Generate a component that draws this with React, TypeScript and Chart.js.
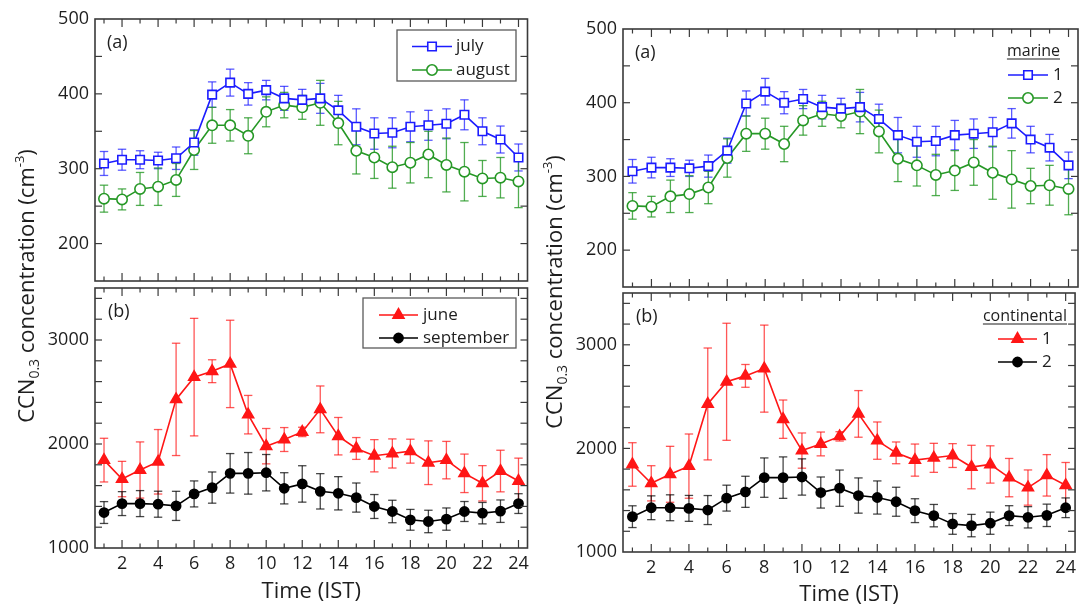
import React, { useEffect, useRef } from 'react';
import { Chart, registerables } from 'chart.js';
import { drawPoint } from 'chart.js/helpers';

Chart.register(...registerables);

// ---------------- data ----------------
const hours = [1, 2, 3, 4, 5, 6, 7, 8, 9, 10, 11, 12, 13, 14, 15, 16, 17, 18, 19, 20, 21, 22, 23, 24];
const xTickLabels = [2, 4, 6, 8, 10, 12, 14, 16, 18, 20, 22, 24];
const topYTickLabels = [200, 300, 400, 500];
const bottomYTickLabels = [1000, 2000, 3000];
const topYMinorTicks = [200, 250, 300, 350, 400, 450];
const bottomYMinorTicks = [1200, 1400, 1600, 1800, 2000, 2200, 2400, 2600, 2800, 3000, 3200, 3400];

const julyMean = [307, 312, 312, 311, 314, 335, 399, 415, 400, 405, 394, 392, 394, 378, 356, 347, 348, 356, 358, 360, 372, 350, 339, 315];
const julyErr = [16, 14, 12, 11, 15, 17, 17, 18, 15, 13, 16, 14, 20, 20, 24, 21, 20, 20, 20, 20, 20, 18, 18, 18];
const augustMean = [260, 259, 273, 276, 285, 325, 358, 358, 344, 376, 385, 382, 388, 361, 324, 315, 302, 308, 319, 305, 296, 287, 288, 283];
const augustErr = [18, 14, 22, 25, 22, 26, 24, 21, 24, 20, 17, 16, 30, 29, 31, 28, 28, 27, 31, 36, 39, 24, 27, 35];
const juneMean = [1845, 1663, 1750, 1829, 2429, 2643, 2700, 2770, 2282, 1979, 2043, 2116, 2333, 2075, 1957, 1887, 1909, 1931, 1820, 1845, 1718, 1622, 1740, 1644];
const juneErr = [210, 170, 270, 310, 540, 565, 110, 420, 185, 170, 115, 45, 225, 180, 105, 155, 140, 115, 210, 180, 185, 170, 200, 220];
const septemberMean = [1341, 1427, 1427, 1421, 1405, 1520, 1581, 1718, 1718, 1724, 1574, 1616, 1545, 1526, 1485, 1399, 1351, 1271, 1255, 1278, 1351, 1335, 1354, 1427];
const septemberErr = [105, 115, 125, 125, 140, 125, 150, 190, 200, 175, 150, 175, 170, 160, 140, 115, 108, 100, 108, 107, 96, 103, 108, 95];

const leftTopNames = ['july', 'august'];
const leftBottomNames = ['june', 'september'];
const rightTopNames = ['1', '2'];
const rightBottomNames = ['1', '2'];
const rightTopHeader = 'marine';
const rightBottomHeader = 'continental';
const panelLabels = ['(a)', '(b)'];
const xTitle = 'Time (IST)';
const yTitleParts = ['CCN', '0.3', ' concentration (cm', '-3', ')'];

// ---------------- styles ----------------
const FONT = "'Open Sans', 'Noto Sans', sans-serif";
const TEXT = '#1e1e1e';
const FRAME = '#3a3a3a';
const W = 1081;
const H = 612;

const styles = {
  blue: { color: 'rgb(28,28,255)', err: 'rgba(28,28,255,0.72)', pointStyle: 'rect', radius: 6, fill: '#ffffff' },
  green: { color: 'rgb(38,152,38)', err: 'rgba(38,152,38,0.8)', pointStyle: 'circle', radius: 5.2, fill: '#ffffff' },
  red: { color: 'rgb(255,22,22)', err: 'rgba(255,22,22,0.72)', pointStyle: 'triangle', radius: 6.3, fill: 'rgb(255,22,22)' },
  black: { color: '#000000', err: 'rgba(0,0,0,0.72)', pointStyle: 'circle', radius: 4.6, fill: '#000000' },
};

type Series = { mean: number[]; err: number[]; style: any };
const julySeries: Series = { mean: julyMean, err: julyErr, style: styles.blue };
const augustSeries: Series = { mean: augustMean, err: augustErr, style: styles.green };
const juneSeries: Series = { mean: juneMean, err: juneErr, style: styles.red };
const septemberSeries: Series = { mean: septemberMean, err: septemberErr, style: styles.black };

type Area = { left: number; right: number; top: number; bottom: number };

type PanelSpec = {
  area: Area;
  yMin: number;
  yMax: number;
  yTicks: number[];
  yMinor: number[];
  series: Series[];
  names: string[];
  showX: boolean;
  xAxisH?: number;
  label: { text: string; x: number; y: number };
  legend: any;
  yTitle?: { baseX: number; cy: number };
};

const panels: PanelSpec[] = [
  {
    area: { left: 95, right: 527.5, top: 19, bottom: 281 },
    yMin: 150, yMax: 500, yTicks: topYTickLabels, yMinor: topYMinorTicks,
    series: [julySeries, augustSeries], names: leftTopNames, showX: false,
    label: { text: panelLabels[0], x: 107, y: 43 },
    legend: { box: [397, 30, 516, 81], rows: [46.5, 70], line: [412, 452], textX: 456 },
  },
  {
    area: { left: 95, right: 527.5, top: 288, bottom: 548 },
    yMin: 1000, yMax: 3500, yTicks: bottomYTickLabels, yMinor: bottomYMinorTicks,
    series: [juneSeries, septemberSeries], names: leftBottomNames, showX: true, xAxisH: 57,
    label: { text: panelLabels[1], x: 108, y: 312 },
    legend: { box: [363, 298, 516, 348], rows: [315, 338], line: [379, 418], textX: 423 },
    yTitle: { baseX: 34, cy: 286 },
  },
  {
    area: { left: 623, right: 1078, top: 29, bottom: 287 },
    yMin: 150, yMax: 500, yTicks: topYTickLabels, yMinor: topYMinorTicks,
    series: [julySeries, augustSeries], names: rightTopNames, showX: false,
    label: { text: panelLabels[0], x: 635, y: 53 },
    legend: { header: rightTopHeader, headerRight: 1060, headerY: 51, rows: [75, 98], line: [1008, 1048], textX: 1053 },
  },
  {
    area: { left: 623, right: 1078, top: 293, bottom: 552 },
    yMin: 1000, yMax: 3500, yTicks: bottomYTickLabels, yMinor: bottomYMinorTicks,
    series: [juneSeries, septemberSeries], names: rightBottomNames, showX: true, xAxisH: 56,
    label: { text: panelLabels[1], x: 636, y: 317 },
    legend: { header: rightBottomHeader, headerRight: 1067, headerY: 316, rows: [339, 362], line: [998, 1037], textX: 1042 },
    yTitle: { baseX: 562, cy: 292 },
  },
];

const Y_AXIS_W = 60;

function line(ctx: CanvasRenderingContext2D, x1: number, y1: number, x2: number, y2: number) {
  ctx.beginPath();
  ctx.moveTo(x1, y1);
  ctx.lineTo(x2, y2);
  ctx.stroke();
}

function marker(ctx: CanvasRenderingContext2D, st: any, x: number, y: number) {
  ctx.save();
  ctx.strokeStyle = st.color;
  ctx.fillStyle = st.fill;
  ctx.lineWidth = 1.6;
  drawPoint(ctx, { pointStyle: st.pointStyle, radius: st.radius, borderWidth: 1.6, rotation: 0 } as any, x, y);
  ctx.restore();
}

function makeConfig(p: PanelSpec): any {
  const a = p.area;
  const xH = p.showX ? (p.xAxisH as number) : 0;
  const padding = {
    left: a.left - Y_AXIS_W,
    top: a.top,
    right: W - a.right,
    bottom: H - a.bottom - xH,
  };

  const errorBars = {
    id: 'errorBars',
    beforeDatasetsDraw(chart: any) {
      const ctx = chart.ctx;
      const ys = chart.scales.y;
      ctx.save();
      p.series.forEach((s, i) => {
        const meta = chart.getDatasetMeta(i);
        ctx.strokeStyle = s.style.err;
        ctx.lineWidth = 1.3;
        meta.data.forEach((pt: any, j: number) => {
          const x = pt.x;
          const yt = ys.getPixelForValue(s.mean[j] + s.err[j]);
          const yb = ys.getPixelForValue(s.mean[j] - s.err[j]);
          line(ctx, x, yt, x, yb);
          line(ctx, x - 4.2, yt, x + 4.2, yt);
          line(ctx, x - 4.2, yb, x + 4.2, yb);
        });
      });
      ctx.restore();
    },
  };

  const frame = {
    id: 'frameTicks',
    afterDatasetsDraw(chart: any) {
      const ctx = chart.ctx;
      const ca = chart.chartArea;
      const xs = chart.scales.x;
      const ys = chart.scales.y;
      ctx.save();
      ctx.strokeStyle = FRAME;
      ctx.lineWidth = 1.2;
      hours.forEach((h) => {
        const x = xs.getPixelForValue(h);
        const len = xTickLabels.includes(h) ? 8 : 4.5;
        line(ctx, x, ca.bottom, x, ca.bottom - len);
        line(ctx, x, ca.top, x, ca.top + len);
      });
      p.yMinor.forEach((v) => {
        const y = ys.getPixelForValue(v);
        line(ctx, ca.left, y, ca.left + 7, y);
        line(ctx, ca.right, y, ca.right - 7, y);
      });
      ctx.lineWidth = 1.6;
      ctx.strokeRect(ca.left, ca.top, ca.right - ca.left, ca.bottom - ca.top);
      ctx.restore();
    },
  };

  const annotations = {
    id: 'annotations',
    afterDraw(chart: any) {
      const ctx = chart.ctx;
      ctx.save();
      // panel label
      ctx.fillStyle = TEXT;
      ctx.font = `18px ${FONT}`;
      ctx.textBaseline = 'middle';
      ctx.textAlign = 'left';
      ctx.fillText(p.label.text, p.label.x, p.label.y);

      // legend
      const lg = p.legend;
      if (lg.box) {
        const [x1, y1, x2, y2] = lg.box;
        ctx.fillStyle = '#ffffff';
        ctx.fillRect(x1, y1, x2 - x1, y2 - y1);
        ctx.strokeStyle = '#5a5a5a';
        ctx.lineWidth = 1.3;
        ctx.strokeRect(x1, y1, x2 - x1, y2 - y1);
      }
      if (lg.header) {
        ctx.font = `16px ${FONT}`;
        ctx.fillStyle = TEXT;
        ctx.textAlign = 'right';
        ctx.textBaseline = 'middle';
        ctx.fillText(lg.header, lg.headerRight, lg.headerY);
        const w = ctx.measureText(lg.header).width;
        ctx.strokeStyle = TEXT;
        ctx.lineWidth = 1.1;
        line(ctx, lg.headerRight - w, lg.headerY + 8, lg.headerRight, lg.headerY + 8);
      }
      p.series.forEach((s, i) => {
        const y = lg.rows[i];
        ctx.strokeStyle = s.style.color;
        ctx.lineWidth = 1.6;
        line(ctx, lg.line[0], y, lg.line[1], y);
        marker(ctx, s.style, (lg.line[0] + lg.line[1]) / 2, y);
        ctx.fillStyle = TEXT;
        ctx.font = `17px ${FONT}`;
        ctx.textAlign = 'left';
        ctx.textBaseline = 'middle';
        ctx.fillText(p.names[i], lg.textX, y);
      });

      // y title (rich text, rotated)
      if (p.yTitle) {
        const roles = [
          { size: 22, dy: 0 },
          { size: 14, dy: 5 },
          { size: 22, dy: 0 },
          { size: 13, dy: -10 },
          { size: 22, dy: 0 },
        ];
        const widths = yTitleParts.map((t, k) => {
          ctx.font = `${roles[k].size}px ${FONT}`;
          return ctx.measureText(t).width;
        });
        const total = widths.reduce((u, v) => u + v, 0);
        ctx.translate(p.yTitle.baseX, p.yTitle.cy);
        ctx.rotate(-Math.PI / 2);
        ctx.fillStyle = TEXT;
        ctx.textAlign = 'left';
        ctx.textBaseline = 'alphabetic';
        let x = -total / 2;
        yTitleParts.forEach((t, k) => {
          ctx.font = `${roles[k].size}px ${FONT}`;
          ctx.fillText(t, x, roles[k].dy);
          x += widths[k];
        });
      }
      ctx.restore();
    },
  };

  return {
    type: 'line',
    data: {
      datasets: p.series.map((s, i) => ({
        label: p.names[i],
        data: hours.map((h, j) => ({ x: h, y: s.mean[j] })),
        borderColor: s.style.color,
        borderWidth: 1.6,
        pointStyle: s.style.pointStyle,
        pointRadius: s.style.radius,
        pointBorderWidth: 1.6,
        pointBorderColor: s.style.color,
        pointBackgroundColor: s.style.fill,
        tension: 0,
        fill: false,
      })),
    },
    options: {
      responsive: false,
      animation: false,
      events: [],
      layout: { padding, autoPadding: false },
      plugins: { legend: { display: false }, tooltip: { enabled: false }, title: { display: false } },
      scales: {
        x: {
          type: 'linear',
          min: 0.5,
          max: 24.5,
          display: p.showX,
          afterBuildTicks: (s: any) => { s.ticks = xTickLabels.map((v) => ({ value: v })); },
          afterFit: (s: any) => { s.height = xH; },
          grid: { display: false, drawTicks: false },
          border: { display: false },
          ticks: {
            color: TEXT, font: { family: FONT, size: 18 }, padding: 5, maxRotation: 0, autoSkip: false,
            callback: (v: any) => String(v),
          },
          title: { display: true, text: xTitle, color: TEXT, font: { family: FONT, size: 22 }, padding: 0 },
        },
        y: {
          type: 'linear',
          min: p.yMin,
          max: p.yMax,
          afterBuildTicks: (s: any) => { s.ticks = p.yTicks.map((v) => ({ value: v })); },
          afterFit: (s: any) => { s.width = Y_AXIS_W; },
          grid: { display: false, drawTicks: false },
          border: { display: false },
          ticks: { color: TEXT, font: { family: FONT, size: 18 }, padding: 6, callback: (v: any) => String(v) },
        },
      },
    },
    plugins: [errorBars, frame, annotations],
  };
}

function Panel({ spec }: { spec: PanelSpec }) {
  const ref = useRef<HTMLCanvasElement | null>(null);
  useEffect(() => {
    if (!ref.current) return;
    const chart = new Chart(ref.current, makeConfig(spec));
    return () => chart.destroy();
  }, [spec]);
  return (
    <canvas
      ref={ref}
      width={W}
      height={H}
      style={{ position: 'absolute', left: 0, top: 0, width: W, height: H }}
    />
  );
}

export default function App() {
  return (
    <div style={{ position: 'absolute', left: 0, top: 0, width: W, height: H, background: '#ffffff' }}>
      {panels.map((p, i) => (
        <Panel key={i} spec={p} />
      ))}
    </div>
  );
}
